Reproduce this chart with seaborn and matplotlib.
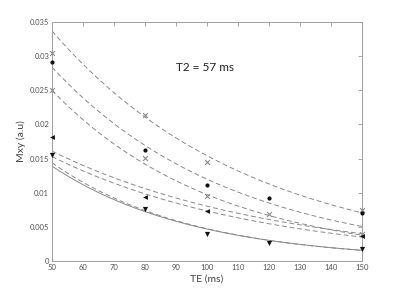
import numpy as np
import pandas as pd
import matplotlib
matplotlib.use("Agg")
import matplotlib.pyplot as plt
import seaborn as sns

# Measured points (TE in ms, Mxy in a.u.)
te_a = [50, 80, 100, 150]
mxy_a = [0.0305, 0.0214, 0.0145, 0.0075]          # x markers (top)
te_b = [50, 80, 100, 120, 150]
mxy_b = [0.0291, 0.0162, 0.0112, 0.0092, 0.0071]  # filled circles
te_c = [50, 80, 100, 120, 150]
mxy_c = [0.0250, 0.0151, 0.0096, 0.0069, 0.0039]  # x markers
te_d = [50, 80, 100, 150]
mxy_d = [0.0182, 0.0094, 0.0073, 0.0037]          # left triangles
te_e = [50, 80, 100, 120, 150]
mxy_e = [0.0155, 0.0076, 0.0039, 0.0027, 0.0017]  # down triangles

# Fitted mono-exponential curves: value at TE=50 and T2 (ms)
fit_s50 = [0.0337, 0.0284, 0.0250, 0.0161, 0.0153, 0.0144, 0.0139]
fit_t2 = [64, 58, 53, 72, 68, 45, 46]
fit_solid = [False, False, False, False, False, False, True]

x_ticks = [50, 60, 70, 80, 90, 100, 110, 120, 130, 140, 150]
y_ticks = [0, 0.005, 0.01, 0.015, 0.02, 0.025, 0.03, 0.035]
y_labels = ["0", "0.005", "0.01", "0.015", "0.02", "0.025", "0.03", "0.035"]
annotation = "T2 = 57 ms"

sns.set_theme(style="white")
plt.rcParams["font.family"] = ["Lato", "DejaVu Sans"]

fig = plt.figure(figsize=(4.0, 2.94), dpi=100)
ax = fig.add_axes([0.13, 0.112, 0.775, 0.813])

te_grid = np.linspace(50, 150, 200)
for i, (s50, t2, solid) in enumerate(zip(fit_s50, fit_t2, fit_solid)):
    df = pd.DataFrame({"TE": te_grid, "Mxy": s50 * np.exp(-(te_grid - 50) / t2)})
    sns.lineplot(data=df, x="TE", y="Mxy", color="#8a8a8a", linewidth=0.7,
                 ax=ax, legend=False)
    if not solid:
        ax.lines[-1].set_dashes((5, 3))

pts = [
    (te_a, mxy_a, "x", "#8a8a8a", 12, 0.8),
    (te_b, mxy_b, "o", "#111111", 9, 0.0),
    (te_c, mxy_c, "x", "#8a8a8a", 12, 0.8),
    (te_d, mxy_d, "<", "#111111", 12, 0.0),
    (te_e, mxy_e, "v", "#111111", 14, 0.0),
]
for te, m, mk, col, s, lw in pts:
    df = pd.DataFrame({"TE": te, "Mxy": m})
    sns.scatterplot(data=df, x="TE", y="Mxy", marker=mk, color=col, s=s,
                    linewidth=lw, edgecolor=col if mk != "x" else None,
                    ax=ax, legend=False, zorder=5, clip_on=False)

ax.set_xlim(50, 150)
ax.set_ylim(0, 0.035)
ax.set_xticks(x_ticks)
ax.set_yticks(y_ticks)
ax.set_yticklabels(y_labels)
ax.tick_params(direction="in", length=3, width=0.6, colors="#9a9a9a",
               labelcolor="#555555", labelsize=5.5, top=True, right=True,
               labeltop=False, labelright=False, pad=2)
for sp in ax.spines.values():
    sp.set_color("#a0a0a0")
    sp.set_linewidth(0.7)
ax.set_xlabel("TE (ms)", fontsize=7.5, color="#444444", labelpad=3)
ax.set_ylabel("Mxy (a.u)", fontsize=7.5, color="#444444", labelpad=3)
ax.text(90, 0.0278, annotation, fontsize=8.5, color="#222222",
        ha="left", va="baseline")

fig.savefig("out.png", dpi=100)
